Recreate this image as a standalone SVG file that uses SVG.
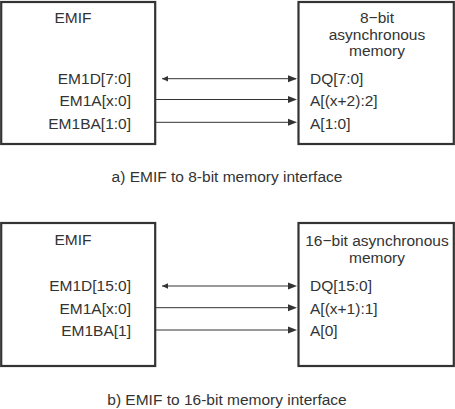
<svg xmlns="http://www.w3.org/2000/svg" width="455" height="409" viewBox="0 0 455 409">
<defs>
<style>
.box{fill:#fff;stroke:#333;stroke-width:2.2}
.t{font-family:"Liberation Sans",Arial,sans-serif;font-size:15.5px;fill:#333}
.m{text-anchor:middle}
.e{text-anchor:end}
.ln{stroke:#333;stroke-width:1;fill:none}
</style>
<marker id="ah" viewBox="0 0 10 10" refX="10" refY="5" markerWidth="9" markerHeight="7" markerUnits="userSpaceOnUse" orient="auto">
<path d="M0,0 L10,5 L0,10 Z" fill="#333"/>
</marker>
<marker id="ahs" viewBox="0 0 10 10" refX="10" refY="5" markerWidth="6" markerHeight="6" markerUnits="userSpaceOnUse" orient="auto-start-reverse">
<path d="M0,0 L10,5 L0,10 Z" fill="#333"/>
</marker>
</defs>
<rect width="455" height="409" fill="#fff"/>
<g id="emif-a">
<rect class="box" x="1.2" y="2" width="154" height="142"/>
<text class="t m" x="73" y="23">EMIF</text>
<text class="t e" x="131" y="84">EM1D[7:0]</text>
<text class="t e" x="131" y="106">EM1A[x:0]</text>
<text class="t e" x="131" y="128.5">EM1BA[1:0]</text>
</g>
<g id="mem-a">
<rect class="box" x="298.5" y="2" width="155.3" height="142"/>
<text class="t m" x="377" y="23">8−bit</text>
<text class="t m" x="377" y="39.5">asynchronous</text>
<text class="t m" x="377" y="56">memory</text>
<text class="t" x="310" y="84">DQ[7:0]</text>
<text class="t" x="310" y="106">A[(x+2):2]</text>
<text class="t" x="310" y="128.5">A[1:0]</text>
</g>
<g id="connectors-a">
<line class="ln" x1="162" y1="78.7" x2="296" y2="78.7"/>
<path d="M162,78.7 L168,76 L168,81.4 Z" fill="#333"/>
<path d="M297,78.7 L288,75.2 L288,82.2 Z" fill="#333"/>
<line class="ln" x1="156" y1="99.5" x2="290" y2="99.5"/>
<path d="M297,99.5 L288,96 L288,103 Z" fill="#333"/>
<line class="ln" x1="156" y1="122.3" x2="290" y2="122.3"/>
<path d="M297,122.3 L288,118.8 L288,125.8 Z" fill="#333"/>
</g>
<text id="caption-a" class="t m" x="227" y="182">a) EMIF to 8-bit memory interface</text>
<g id="emif-b">
<rect class="box" x="1.2" y="223" width="154" height="143"/>
<text class="t m" x="73" y="245">EMIF</text>
<text class="t e" x="131" y="291">EM1D[15:0]</text>
<text class="t e" x="131" y="313.5">EM1A[x:0]</text>
<text class="t e" x="131" y="336">EM1BA[1]</text>
</g>
<g id="mem-b">
<rect class="box" x="298.5" y="223" width="155.3" height="143"/>
<text class="t m" x="377" y="246">16−bit asynchronous</text>
<text class="t m" x="377" y="263">memory</text>
<text class="t" x="310" y="291">DQ[15:0]</text>
<text class="t" x="310" y="313.5">A[(x+1):1]</text>
<text class="t" x="310" y="336">A[0]</text>
</g>
<g id="connectors-b">
<line class="ln" x1="162" y1="286" x2="290" y2="286"/>
<path d="M162,286 L168,283.3 L168,288.7 Z" fill="#333"/>
<path d="M297,286 L288,282.5 L288,289.5 Z" fill="#333"/>
<line class="ln" x1="156" y1="307.7" x2="290" y2="307.7"/>
<path d="M297,307.7 L288,304.2 L288,311.2 Z" fill="#333"/>
<line class="ln" x1="156" y1="330" x2="290" y2="330"/>
<path d="M297,330 L288,326.5 L288,333.5 Z" fill="#333"/>
</g>
<text id="caption-b" class="t m" x="227" y="405">b) EMIF to 16-bit memory interface</text>
</svg>
